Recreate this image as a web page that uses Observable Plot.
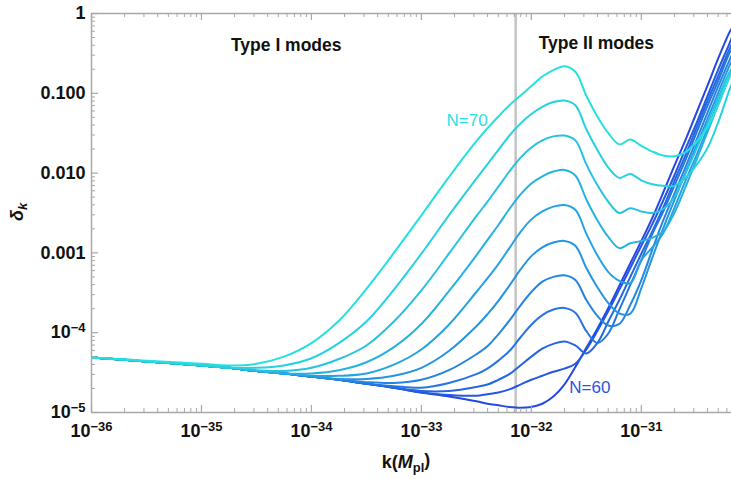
<!DOCTYPE html>
<html><head><meta charset="utf-8">
<script src="https://cdn.jsdelivr.net/npm/d3@7"></script>
<script src="https://cdn.jsdelivr.net/npm/@observablehq/plot@0.6"></script>
<style>
html,body{margin:0;padding:0;background:#fff;}
#chart{width:731px;height:479px;overflow:hidden;}
svg{display:block;}
</style></head><body><div id="chart"></div>
<script>
// log10 of k (M_pl) sample positions
const logK = [-36,-35.5,-35,-34.75,-34.5,-34.25,-34,-33.75,-33.5,-33.25,-33,-32.75,-32.5,-32.4,-32.3,-32.2,-32.1,-32,-31.9,-31.8,-31.7,-31.6,-31.5,-31.4,-31.3,-31.2,-31.1,-31,-30.9,-30.8,-30.7,-30.6,-30.5,-30.4,-30.3,-30.2,-30.18];
// log10 of delta_k for each N
const logDeltaN60 = [-4.31,-4.36,-4.41,-4.44,-4.48,-4.51,-4.55,-4.59,-4.64,-4.69,-4.75,-4.80,-4.86,-4.89,-4.91,-4.93,-4.94,-4.93,-4.89,-4.80,-4.65,-4.43,-4.19,-3.95,-3.69,-3.41,-3.13,-2.85,-2.56,-2.24,-1.91,-1.59,-1.25,-0.91,-0.56,-0.24,-0.19];
const logDeltaN61 = [-4.31,-4.36,-4.41,-4.44,-4.48,-4.51,-4.55,-4.59,-4.64,-4.69,-4.75,-4.78,-4.79,-4.77,-4.75,-4.71,-4.65,-4.59,-4.54,-4.49,-4.45,-4.39,-4.21,-3.98,-3.73,-3.46,-3.19,-2.91,-2.64,-2.34,-2.03,-1.70,-1.38,-1.04,-0.70,-0.38,-0.31];
const logDeltaN62 = [-4.31,-4.36,-4.41,-4.44,-4.48,-4.51,-4.55,-4.59,-4.64,-4.69,-4.73,-4.73,-4.68,-4.65,-4.59,-4.52,-4.41,-4.30,-4.20,-4.14,-4.11,-4.16,-4.26,-4.13,-3.86,-3.59,-3.30,-3.01,-2.73,-2.43,-2.10,-1.78,-1.44,-1.10,-0.78,-0.45,-0.39];
const logDeltaN63 = [-4.31,-4.36,-4.41,-4.44,-4.48,-4.51,-4.55,-4.59,-4.64,-4.67,-4.69,-4.63,-4.52,-4.45,-4.35,-4.23,-4.06,-3.90,-3.78,-3.71,-3.69,-3.75,-3.98,-4.13,-4.01,-3.71,-3.40,-3.09,-2.76,-2.48,-2.16,-1.84,-1.50,-1.16,-0.84,-0.50,-0.45];
const logDeltaN64 = [-4.31,-4.36,-4.41,-4.44,-4.48,-4.51,-4.55,-4.59,-4.62,-4.63,-4.59,-4.47,-4.27,-4.17,-4.02,-3.85,-3.66,-3.49,-3.36,-3.30,-3.28,-3.34,-3.59,-3.79,-3.91,-3.89,-3.65,-3.34,-2.96,-2.59,-2.26,-1.93,-1.59,-1.25,-0.91,-0.59,-0.53];
const logDeltaN65 = [-4.31,-4.36,-4.41,-4.44,-4.48,-4.51,-4.55,-4.58,-4.58,-4.54,-4.44,-4.23,-3.92,-3.77,-3.60,-3.41,-3.21,-3.04,-2.93,-2.87,-2.85,-2.91,-3.19,-3.43,-3.63,-3.76,-3.76,-3.44,-3.06,-2.69,-2.34,-2.00,-1.66,-1.33,-0.99,-0.66,-0.60];
const logDeltaN66 = [-4.31,-4.36,-4.41,-4.44,-4.48,-4.51,-4.54,-4.54,-4.51,-4.40,-4.21,-3.90,-3.49,-3.32,-3.14,-2.94,-2.74,-2.58,-2.48,-2.42,-2.40,-2.46,-2.76,-3.03,-3.24,-3.35,-3.38,-3.09,-2.93,-2.75,-2.44,-2.10,-1.78,-1.45,-1.11,-0.79,-0.73];
const logDeltaN67 = [-4.31,-4.36,-4.41,-4.44,-4.48,-4.51,-4.51,-4.47,-4.37,-4.18,-3.89,-3.48,-3.03,-2.84,-2.65,-2.45,-2.27,-2.13,-2.04,-1.98,-1.96,-2.03,-2.33,-2.59,-2.80,-2.94,-2.88,-2.85,-2.81,-2.73,-2.50,-2.18,-1.84,-1.49,-1.14,-0.80,-0.74];
const logDeltaN68 = [-4.31,-4.36,-4.41,-4.44,-4.47,-4.48,-4.44,-4.33,-4.16,-3.86,-3.47,-3.01,-2.54,-2.36,-2.17,-1.98,-1.81,-1.68,-1.59,-1.54,-1.53,-1.59,-1.89,-2.15,-2.36,-2.50,-2.44,-2.48,-2.50,-2.45,-2.30,-2.01,-1.70,-1.38,-1.05,-0.74,-0.69];
const logDeltaN69 = [-4.31,-4.36,-4.41,-4.44,-4.44,-4.41,-4.32,-4.13,-3.86,-3.46,-3.01,-2.53,-2.07,-1.89,-1.71,-1.53,-1.38,-1.26,-1.17,-1.11,-1.09,-1.15,-1.45,-1.71,-1.93,-2.06,-2.01,-2.09,-2.14,-2.16,-2.16,-2.06,-1.90,-1.69,-1.36,-0.96,-0.89];
const logDeltaN70 = [-4.31,-4.35,-4.39,-4.41,-4.39,-4.30,-4.13,-3.85,-3.45,-3.00,-2.53,-2.05,-1.60,-1.44,-1.29,-1.15,-1.03,-0.91,-0.79,-0.71,-0.66,-0.73,-1.03,-1.29,-1.50,-1.64,-1.58,-1.66,-1.73,-1.78,-1.79,-1.74,-1.61,-1.43,-1.14,-0.79,-0.74];

const nValues = [60,61,62,63,64,65,66,67,68,69,70];
const seriesList = [logDeltaN60,logDeltaN61,logDeltaN62,logDeltaN63,logDeltaN64,logDeltaN65,logDeltaN66,logDeltaN67,logDeltaN68,logDeltaN69,logDeltaN70];

const xMajor = [1e-36,1e-35,1e-34,1e-33,1e-32,1e-31];
const xMajorLabels = ["10^-36","10^-35","10^-34","10^-33","10^-32","10^-31"];
const yMajor = [1e-5,1e-4,1e-3,1e-2,1e-1,1];
const yMajorLabels = ["10^-5","10^-4","0.001","0.010","0.100","1"];
const kBoundary = 7.2e-33;
const annotations = [
  {text:"Type I modes", k:5.9e-35, d:0.40, bold:true, color:"#111"},
  {text:"Type II modes", k:3.9e-32, d:0.42, bold:true, color:"#111"},
  {text:"N=70", k:2.6e-33, d:0.046, bold:false, color:"#2fe0e2"},
  {text:"N=60", k:3.4e-32, d:2.05e-5, bold:false, color:"#2a55e0"}
];

const rows = [];
nValues.forEach((n, i) => seriesList[i].forEach((v, j) => rows.push({N: n, k: 10 ** logK[j], delta: 10 ** v})));

const minorOf = (majors) => majors.slice(0, -1).flatMap(d => [2,3,4,5,6,7,8,9].map(m => m * d));
const xMinor = minorOf([...xMajor, 1e-30]).filter(v => v <= 10 ** -30.18);
const yMinor = minorOf(yMajor);

const colorRange = nValues.map((n, i) => d3.interpolateRgb("#2448e2", "#26e0e0")(i / 10));

const W = 731, H = 479, ML = 91, MR = 0, MT = 13, MB = 67;
const innerW = W - ML - MR, innerH = H - MT - MB;
const frameColor = "#a8a8a8";

const plot = Plot.plot({
  width: W, height: H,
  marginLeft: ML, marginRight: MR, marginTop: MT, marginBottom: MB,
  style: {fontFamily: "'Liberation Sans', Arial, sans-serif", background: "#fff", overflow: "visible"},
  x: {type: "log", domain: [1e-36, 10 ** -30.18], axis: null},
  y: {type: "log", domain: [1e-5, 1], axis: null},
  color: {type: "ordinal", domain: nValues, range: colorRange},
  marks: [
    Plot.ruleX([kBoundary], {stroke: "#c6c6c6", strokeWidth: 2.6}),
    Plot.line(rows, {x: "k", y: "delta", z: "N", stroke: "N", strokeWidth: 2, curve: "catmull-rom", clip: true}),
    Plot.ruleX([1e-36], {stroke: frameColor, strokeWidth: 1.5}),
    Plot.ruleY([1e-5], {stroke: frameColor, strokeWidth: 1.5}),
    Plot.ruleY([1], {stroke: frameColor, strokeWidth: 1.5}),
    Plot.ruleX(xMajor, {insetTop: innerH - 7, stroke: frameColor, strokeWidth: 1.2}),
    Plot.ruleX(xMajor, {insetBottom: innerH - 7, stroke: frameColor, strokeWidth: 1.2}),
    Plot.ruleX(xMinor, {insetTop: innerH - 4, stroke: frameColor, strokeWidth: 1}),
    Plot.ruleX(xMinor, {insetBottom: innerH - 4, stroke: frameColor, strokeWidth: 1}),
    Plot.ruleY(yMajor, {insetRight: innerW - 7, stroke: frameColor, strokeWidth: 1.2}),
    Plot.ruleY(yMinor, {insetRight: innerW - 4, stroke: frameColor, strokeWidth: 1}),
    Plot.axisX({ticks: xMajor, label: null, tickSize: 0, tickPadding: 12, tickFormat: d => xMajorLabels[xMajor.indexOf(d)], fontSize: 18, fontWeight: "bold", fill: "#111"}),
    Plot.axisY({ticks: yMajor, label: null, tickSize: 0, tickPadding: 6, tickFormat: d => yMajorLabels[yMajor.indexOf(d)], fontSize: 18, fontWeight: "bold", fill: "#111"}),
    Plot.text(annotations.filter(a => a.bold), {x: "k", y: "d", text: "text", fill: "color", fontSize: 17.5, fontWeight: "bold"}),
    Plot.text(annotations.filter(a => !a.bold), {x: "k", y: "d", text: "text", fill: "color", fontSize: 17, fontWeight: "normal"})
  ]
});
document.getElementById("chart").appendChild(plot);

const NS = "http://www.w3.org/2000/svg";
// superscripts for tick labels written as base^exp
plot.querySelectorAll("text").forEach(t => {
  const s = t.textContent;
  const m = s.match(/^(.*)\^(.*)$/);
  if (!m) return;
  t.textContent = "";
  const b = document.createElementNS(NS, "tspan"); b.textContent = m[1];
  const e = document.createElementNS(NS, "tspan"); e.textContent = m[2].replace("-", "\u2212");
  e.setAttribute("dy", "-0.5em"); e.setAttribute("font-size", "0.72em");
  t.append(b, e);
});

// axis titles
const svg = d3.select(plot);
const xt = svg.append("text").attr("x", 406).attr("y", 468).attr("text-anchor", "middle")
  .attr("font-size", 18).attr("font-weight", "bold").attr("fill", "#111");
xt.append("tspan").text("k(");
xt.append("tspan").attr("font-style", "italic").text("M");
xt.append("tspan").attr("font-size", "0.72em").attr("dy", "0.3em").text("pl");
xt.append("tspan").attr("dy", "-0.3em").text(")");
const yt = svg.append("text").attr("transform", "translate(23,212) rotate(-90)").attr("text-anchor", "middle")
  .attr("font-size", 18).attr("font-weight", "bold").attr("fill", "#111");
yt.append("tspan").attr("font-style", "italic").text("δ");
yt.append("tspan").attr("font-style", "italic").attr("font-size", "0.72em").attr("dy", "0.3em").text("k");
</script></body></html>
